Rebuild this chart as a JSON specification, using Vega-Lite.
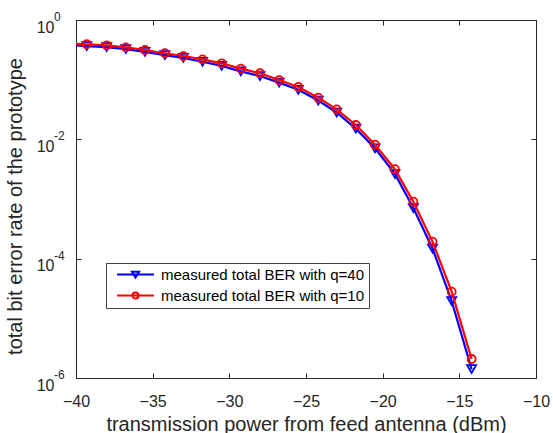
{
  "$schema": "https://vega.github.io/schema/vega-lite/v6.json",
  "width": 460,
  "height": 358,
  "autosize": "none",
  "padding": {"left": 76, "top": 20, "right": 17, "bottom": 55},
  "background": "white",
  "config": {
    "view": {"stroke": "#262626", "strokeWidth": 1},
    "font": "Liberation Sans",
    "axis": {"grid": false, "domain": false, "tickColor": "#262626", "labelColor": "#262626", "titleColor": "#262626", "labelFont": "Liberation Sans", "titleFont": "Liberation Sans", "titleFontWeight": "normal", "labelFlush": false}
  },
  "data": {
    "values": [
      {"p": -40.55, "ber": 0.380, "s": "measured total BER with q=40"},
      {"p": -39.3, "ber": 0.366, "s": "measured total BER with q=40"},
      {"p": -38.0, "ber": 0.352, "s": "measured total BER with q=40"},
      {"p": -36.75, "ber": 0.325, "s": "measured total BER with q=40"},
      {"p": -35.5, "ber": 0.293, "s": "measured total BER with q=40"},
      {"p": -34.2, "ber": 0.258, "s": "measured total BER with q=40"},
      {"p": -33.0, "ber": 0.232, "s": "measured total BER with q=40"},
      {"p": -31.75, "ber": 0.200, "s": "measured total BER with q=40"},
      {"p": -30.5, "ber": 0.170, "s": "measured total BER with q=40"},
      {"p": -29.25, "ber": 0.138, "s": "measured total BER with q=40"},
      {"p": -28.0, "ber": 0.115, "s": "measured total BER with q=40"},
      {"p": -26.75, "ber": 0.0891, "s": "measured total BER with q=40"},
      {"p": -25.5, "ber": 0.0676, "s": "measured total BER with q=40"},
      {"p": -24.2, "ber": 0.0447, "s": "measured total BER with q=40"},
      {"p": -23.0, "ber": 0.0282, "s": "measured total BER with q=40"},
      {"p": -21.75, "ber": 0.0151, "s": "measured total BER with q=40"},
      {"p": -20.5, "ber": 0.00708, "s": "measured total BER with q=40"},
      {"p": -19.2, "ber": 0.00263, "s": "measured total BER with q=40"},
      {"p": -18.0, "ber": 0.000708, "s": "measured total BER with q=40"},
      {"p": -16.75, "ber": 0.000148, "s": "measured total BER with q=40"},
      {"p": -15.5, "ber": 0.0000195, "s": "measured total BER with q=40"},
      {"p": -14.2, "ber": 0.00000141, "s": "measured total BER with q=40"},
      {"p": -40.55, "ber": 0.401, "s": "measured total BER with q=10"},
      {"p": -39.3, "ber": 0.392, "s": "measured total BER with q=10"},
      {"p": -38.0, "ber": 0.377, "s": "measured total BER with q=10"},
      {"p": -36.75, "ber": 0.348, "s": "measured total BER with q=10"},
      {"p": -35.5, "ber": 0.314, "s": "measured total BER with q=10"},
      {"p": -34.2, "ber": 0.277, "s": "measured total BER with q=10"},
      {"p": -33.0, "ber": 0.249, "s": "measured total BER with q=10"},
      {"p": -31.75, "ber": 0.219, "s": "measured total BER with q=10"},
      {"p": -30.5, "ber": 0.188, "s": "measured total BER with q=10"},
      {"p": -29.25, "ber": 0.153, "s": "measured total BER with q=10"},
      {"p": -28.0, "ber": 0.128, "s": "measured total BER with q=10"},
      {"p": -26.75, "ber": 0.0986, "s": "measured total BER with q=10"},
      {"p": -25.5, "ber": 0.0753, "s": "measured total BER with q=10"},
      {"p": -24.2, "ber": 0.0499, "s": "measured total BER with q=10"},
      {"p": -23.0, "ber": 0.0318, "s": "measured total BER with q=10"},
      {"p": -21.75, "ber": 0.0174, "s": "measured total BER with q=10"},
      {"p": -20.5, "ber": 0.00813, "s": "measured total BER with q=10"},
      {"p": -19.2, "ber": 0.00316, "s": "measured total BER with q=10"},
      {"p": -18.0, "ber": 0.000902, "s": "measured total BER with q=10"},
      {"p": -16.75, "ber": 0.000193, "s": "measured total BER with q=10"},
      {"p": -15.5, "ber": 0.0000280, "s": "measured total BER with q=10"},
      {"p": -14.2, "ber": 0.00000208, "s": "measured total BER with q=10"}
    ]
  },
  "layer": [
    {
      "transform": [{"filter": "datum.s == 'measured total BER with q=40'"}],
      "mark": {"type": "line", "strokeWidth": 2.2, "clip": true},
      "encoding": {
        "x": {"field": "p", "type": "quantitative", "scale": {"domain": [-40, -10], "nice": false, "zero": false},
          "axis": {"orient": "bottom", "values": [-40, -35, -30, -25, -20, -15, -10], "tickSize": -5, "labelPadding": 20, "labelFontSize": 16, "title": "transmission power from feed antenna (dBm)", "titleFontSize": 20, "titlePadding": 5}},
        "y": {"field": "ber", "type": "quantitative", "scale": {"type": "log", "domain": [0.000001, 1], "nice": false},
          "axis": {"orient": "left", "values": [0.000001, 0.0001, 0.01, 1], "tickSize": -5, "labelPadding": 27, "labelFontSize": 16, "labelOffset": 7,
            "labelExpr": "'10'",
            "title": "total bit error rate of the prototype", "titleFontSize": 20, "titlePadding": 11, "titleY": 186}},
        "color": {"field": "s", "type": "nominal", "scale": {"domain": ["measured total BER with q=40", "measured total BER with q=10"], "range": ["#0000ff", "#ff0000"]},
          "legend": {
            "orient": "none", "legendX": 30, "legendY": 243, "title": null,
            "fillColor": "white", "strokeColor": "#404040", "padding": 4,
            "symbolSize": 81, "symbolStrokeWidth": 2, "symbolType": "circle",
            "labelOffset": 36, "labelFontSize": 15, "labelColor": "#000000", "labelFont": "Liberation Sans", "labelLimit": 400,
            "rowPadding": 5,
            "encode": {"symbols": {"update": {
              "shape": {"signal": "datum.value == 'measured total BER with q=40' ? 'M-0.1,0L8.1,0M3.2,-0.6L4.8,-0.6L4,0.7Z' : 'M-0.1,0L8.1,0M4.67,0A0.67,0.67 0 1,1 3.33,0A0.67,0.67 0 1,1 4.67,0'"},
              "fill": {"value": "transparent"},
              "opacity": {"value": 1}
            }}}
          }}
      }
    },
    {
      "transform": [{"filter": "datum.s == 'measured total BER with q=40'"}],
      "mark": {"type": "point", "shape": "triangle-down", "filled": false, "size": 81, "strokeWidth": 1.8, "opacity": 1, "clip": true},
      "encoding": {
        "x": {"field": "p", "type": "quantitative", "axis": null},
        "y": {"field": "ber", "type": "quantitative", "axis": null},
        "color": {"field": "s", "type": "nominal"}
      }
    },
    {
      "transform": [{"filter": "datum.s == 'measured total BER with q=10'"}],
      "mark": {"type": "line", "strokeWidth": 2.2, "clip": true},
      "encoding": {
        "x": {"field": "p", "type": "quantitative", "axis": null},
        "y": {"field": "ber", "type": "quantitative", "axis": null},
        "color": {"field": "s", "type": "nominal"}
      }
    },
    {
      "transform": [{"filter": "datum.s == 'measured total BER with q=10'"}],
      "mark": {"type": "point", "shape": "circle", "filled": false, "size": 64, "strokeWidth": 1.8, "opacity": 1, "clip": true},
      "encoding": {
        "x": {"field": "p", "type": "quantitative", "axis": null},
        "y": {"field": "ber", "type": "quantitative", "axis": null},
        "color": {"field": "s", "type": "nominal"}
      }
    },
    {
      "data": {"values": [{"tick": 1, "exp": "0"}, {"tick": 0.01, "exp": "-2"}, {"tick": 0.0001, "exp": "-4"}, {"tick": 0.000001, "exp": "-6"}]},
      "mark": {"type": "text", "align": "left", "baseline": "middle", "dx": -22, "dy": -3, "fontSize": 12, "font": "Liberation Sans", "color": "#262626", "clip": false},
      "encoding": {
        "x": {"datum": -40, "type": "quantitative", "axis": null},
        "y": {"field": "tick", "type": "quantitative", "axis": null},
        "text": {"field": "exp"}
      }
    },
    {
      "mark": {"type": "point", "opacity": 0},
      "encoding": {
        "x": {"field": "p", "type": "quantitative", "axis": {"orient": "top", "values": [-40, -35, -30, -25, -20, -15, -10], "tickSize": -5, "labels": false, "title": null}},
        "y": {"field": "ber", "type": "quantitative", "axis": {"orient": "right", "values": [0.000001, 0.0001, 0.01, 1], "tickSize": -5, "labels": false, "title": null}}
      }
    }
  ],
  "resolve": {"axis": {"x": "independent", "y": "independent"}}
}
